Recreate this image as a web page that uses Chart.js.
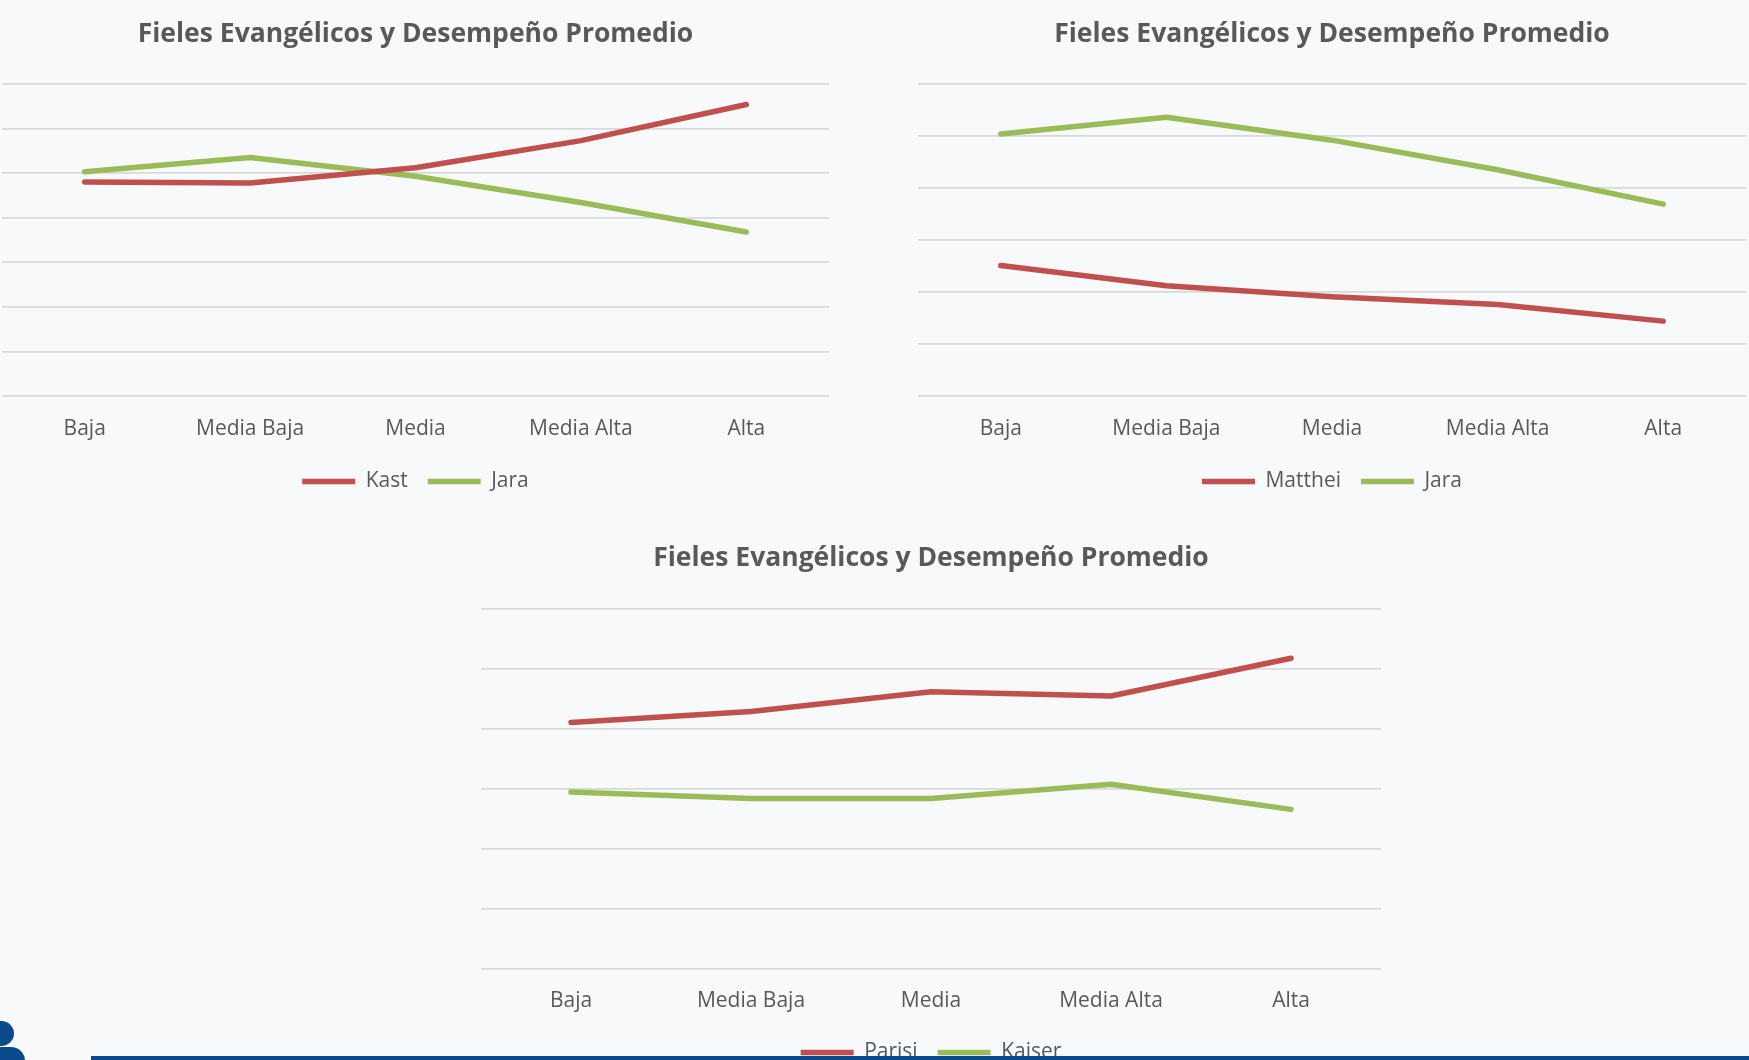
<!DOCTYPE html>
<html>
<head>
<meta charset="utf-8">
<script src="https://cdn.jsdelivr.net/npm/chart.js@4.4.1/dist/chart.umd.min.js"></script>
<style>
    html, body { margin: 0; padding: 0; width: 1749px; height: 1060px; overflow: hidden; background: #f8f9fb; }
    canvas { position: absolute; }
    #chart1 { left: 0; top: 0; }
    #chart2 { left: 905px; top: 0; }
    #chart3 { left: 468px; top: 520px; }
    .bar { position: absolute; left: 91px; top: 1056px; width: 1658px; height: 4px; background: #0b4b8c; z-index: 2; }
    .logo-a { position: absolute; left: -10px; top: 1021px; width: 24px; height: 25px; border-radius: 0 14px 14px 0; background: #0b4b8c; }
    .logo-b { position: absolute; left: -10px; top: 1047px; width: 35px; height: 22px; border-radius: 0 14px 0 0; background: #0b4b8c; }
</style>
</head>
<body>
<canvas id="chart1" width="840" height="502"></canvas>
<canvas id="chart2" width="844" height="502"></canvas>
<canvas id="chart3" width="913" height="553"></canvas>
<div class="logo-a"></div>
<div class="logo-b"></div>
<div class="bar"></div>
<script>
const categories = ['Baja', 'Media Baja', 'Media', 'Media Alta', 'Alta'];
const chartTitle = 'Fieles Evangélicos y Desempeño Promedio';

// chart 1
const kast = [48.0, 47.8, 51.2, 57.3, 65.4];
const jara1 = [50.3, 53.5, 49.3, 43.4, 36.8];
// chart 2
const matthei = [25.1, 21.2, 19.1, 17.6, 14.4];
const jara2 = [50.4, 53.6, 49.2, 43.5, 36.9];
// chart 3
const parisi = [41.1, 42.9, 46.2, 45.5, 51.8];
const kaiser = [29.5, 28.4, 28.4, 30.8, 26.6];

const RED = '#c0504d';
const GREEN = '#9bbb59';
const TEXT = '#595959';
const FONT = '"Open Sans", sans-serif';

function series(label, data, color) {
    return {
        label: label,
        data: data,
        borderColor: color,
        backgroundColor: color,
        borderWidth: 5.5,
        borderCapStyle: 'round',
        borderJoinStyle: 'round',
        pointRadius: 0,
        tension: 0
    };
}

function drawChart(id, datasets, yMax, lay) {
    const ctx = document.getElementById(id).getContext('2d');
    return new Chart(ctx, {
        type: 'line',
        data: { labels: categories, datasets: datasets },
        options: {
            responsive: false,
            animation: false,
            layout: { padding: { left: lay.padL, right: lay.padR, top: 0, bottom: 0 } },
            plugins: {
                title: {
                    display: true,
                    text: chartTitle,
                    color: TEXT,
                    font: { family: FONT, size: 26.5, weight: 'bold' },
                    padding: { top: lay.titleTop, bottom: lay.titleBottom }
                },
                legend: {
                    position: 'bottom',
                    labels: {
                        color: TEXT,
                        font: { family: FONT, size: 21 },
                        usePointStyle: true,
                        pointStyle: 'line',
                        pointStyleWidth: 53,
                        padding: 20
                    }
                },
                tooltip: { enabled: false }
            },
            scales: {
                x: {
                    offset: true,
                    grid: { display: false, drawTicks: false },
                    border: { display: false },
                    ticks: {
                        color: TEXT,
                        font: { family: FONT, size: 21 },
                        padding: lay.tickPad,
                        maxRotation: 0,
                        autoSkip: false
                    },
                    // fixed axis band so the legend sits where the original has it
                    afterFit: (scale) => { scale.height = lay.axisH; }
                },
                y: {
                    min: 0,
                    max: yMax,
                    ticks: { display: false, stepSize: 10 },
                    grid: { color: '#d9d9d9', lineWidth: 1.7, drawTicks: false },
                    border: { display: false }
                }
            }
        }
    });
}

drawChart('chart1', [series('Kast', kast, RED), series('Jara', jara1, GREEN)], 70,
    { padL: 2, padR: 11, titleTop: 19, titleBottom: 33.2, tickPad: 20, axisH: 55 });

drawChart('chart2', [series('Matthei', matthei, RED), series('Jara', jara2, GREEN)], 60,
    { padL: 13, padR: 3, titleTop: 19, titleBottom: 33.2, tickPad: 20, axisH: 55 });

drawChart('chart3', [series('Parisi', parisi, RED), series('Kaiser', kaiser, GREEN)], 60,
    { padL: 13, padR: 0, titleTop: 23, titleBottom: 34.2, tickPad: 19.4, axisH: 53 });
</script>
</body>
</html>
